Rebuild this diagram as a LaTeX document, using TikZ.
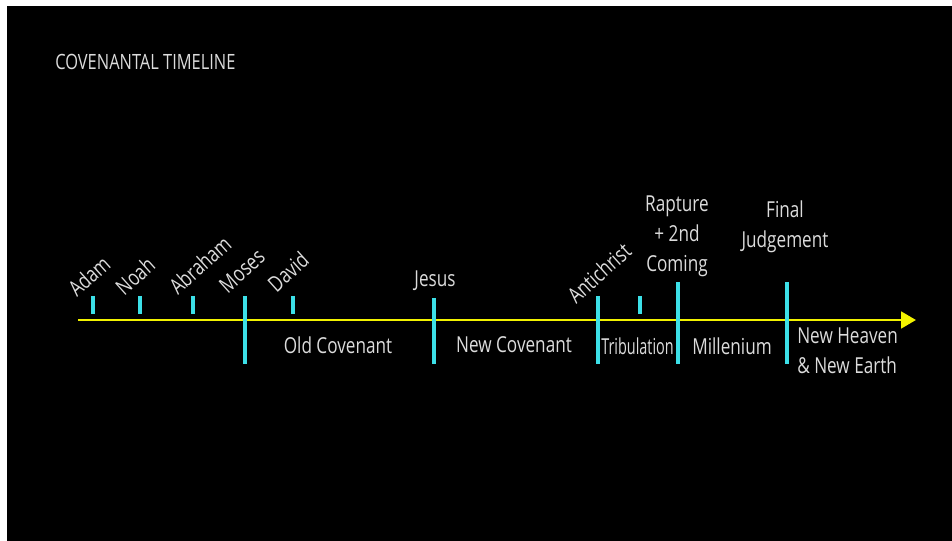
\documentclass[tikz,border=0pt]{standalone}
\usepackage{fontspec}
\setmainfont{Open Sans}[FakeStretch=0.78]
\usetikzlibrary{arrows.meta}
\definecolor{txt}{HTML}{DCDCDC}
\definecolor{cy}{HTML}{3CE0E8}
\definecolor{yl}{HTML}{F2F200}
\newcommand{\lab}{\fontsize{16.5}{22.5}\selectfont}
\newcommand{\ttl}{\fontsize{15.8}{20}\selectfont}
\tikzset{
  lbl/.style={text=txt, font=\lab, inner sep=0pt, align=center},
  rlbl/.style={lbl, rotate=42},
  tk/.style={draw=cy, line width=3pt},
  axis/.style={draw=yl, line width=2.2pt, -{Triangle[length=11.25pt,width=12.5pt]}},
}
\begin{document}
\begin{tikzpicture}[x=0.75pt, y=-0.75pt]
\useasboundingbox (0,0) rectangle (952,541);
\fill[white] (0,0) rectangle (952,541);
\fill[black] (7,6) rectangle (952,541);

\node[lbl, font=\ttl, anchor=west] (title) at (55,62) {COVENANTAL TIMELINE};

% axis
\coordinate (ls) at (78,320);
\coordinate (le) at (916,320);
\draw[axis] (ls) -- (le);

% short ticks
\foreach \n/\x in {adam/93, noah/140, abraham/193, david/293, tribmid/640} {
  \coordinate (\n T) at (\x,296);
  \coordinate (\n B) at (\x,314);
  \draw[tk] (\n T) -- (\n B);
}
% long ticks
\foreach \n/\x/\t in {moses/245/296, jesus/434/298, antichrist/598/296, rapture/678/282, final/787/282} {
  \coordinate (\n T) at (\x,\t);
  \coordinate (\n B) at (\x,364);
  \draw[tk] (\n T) -- (\n B);
}

% rotated labels
\node[rlbl] (adam) at (89,276) {Adam};
\node[rlbl] (noah) at (135,276) {Noah};
\node[rlbl] (abraham) at (200,265) {Abraham};
\node[rlbl] (moses) at (242,271) {Moses};
\node[rlbl] (david) at (288,272) {David};
\node[rlbl] (antichrist) at (599,273) {Antichrist};

% upright labels
\node[lbl] (jesus) at (435,281) {Jesus};
\node[lbl] (rapture) at (677,236) {Rapture\\+ 2nd\\Coming};
\node[lbl] (final) at (785,227) {Final\\Judgement};

\node[lbl] (old) at (338,345) {Old Covenant};
\node[lbl] (new) at (514,345) {New Covenant};
\node[lbl] (trib) at (637.5,346) {\scalebox{0.84}[1]{Tribulation}};
\node[lbl] (mill) at (732,346) {Millenium};
\node[lbl, align=left, anchor=west] (heaven) at (797,351) {New Heaven\\\& New Earth};
\end{tikzpicture}
\end{document}
